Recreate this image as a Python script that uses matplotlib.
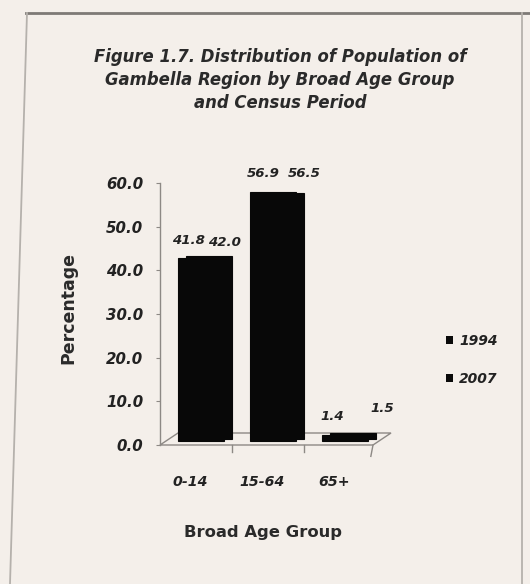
import matplotlib
matplotlib.use("Agg")
import matplotlib.pyplot as plt
from matplotlib.patches import Rectangle, Polygon

categories = ["0-14", "15-64", "65+"]
series_names = ["1994", "2007"]
values_1994 = [41.8, 56.9, 1.4]
values_2007 = [42.0, 56.5, 1.5]
yticks = [0, 10, 20, 30, 40, 50, 60]

FONT = ["DejaVu Sans"]
bg = "#f4efea"
ink = "#222222"
axcol = "#8d8985"

W, H = 530, 584
fig = plt.figure(figsize=(W / 100, H / 100), dpi=100, facecolor=bg)

def fx(px):
    return px / W

def fy(py):
    return 1 - py / H

# outer frame of the printed figure
frame = fig.add_axes([0, 0, 1, 1], facecolor="none")
frame.set_xlim(0, W)
frame.set_ylim(H, 0)
frame.axis("off")
frame.plot([26, 530], [13, 13], color="#7e7a76", lw=2.0)
frame.plot([27, 10], [13, 584], color="#b5b1ac", lw=1.3)
frame.plot([522, 522], [13, 584], color="#b5b1ac", lw=1.3)

# title
title_kw = dict(ha="center", va="center", fontsize=11.9, fontweight="bold",
                fontstyle="italic", color="#2a2a2a", family=FONT)
fig.text(fx(280), fy(57), "Figure 1.7. Distribution of Population of", **title_kw)
fig.text(fx(280), fy(80), "Gambella Region by Broad Age Group", **title_kw)
fig.text(fx(280), fy(103), "and Census Period", **title_kw)

# main axes: y axis at x=160 px, y=0 at 445 px, y=60 at 183 px
unit = 72.0                 # px per category
left_px, right_px = 160, 410
y0_px, y60_px = 445, 183
ax = fig.add_axes([fx(left_px), fy(y0_px), fx(right_px - left_px),
                   (y0_px - y60_px) / H])
ax.set_facecolor("none")
x_lo = -(205 - left_px) / unit
x_hi = x_lo + (right_px - left_px) / unit
ax.set_xlim(x_lo, x_hi)
ax.set_ylim(0, 60)
for s in ax.spines.values():
    s.set_visible(False)

ppu = (y0_px - y60_px) / 60.0   # px per data unit
ddx, ddy = 18 / unit, 12 / ppu  # floor depth
floor_right = x_lo + (373 - left_px) / unit
floor = Polygon([[x_lo, 0], [floor_right, 0], [floor_right + ddx, ddy],
                 [x_lo + ddx, ddy]], closed=True, facecolor="none",
                edgecolor=axcol, lw=1.0, clip_on=False)
ax.add_patch(floor)
ax.plot([x_lo, x_lo], [0, 60], color=axcol, lw=1.0, clip_on=False)
for xc in [0.5, 1.5]:
    ax.plot([xc - 0.12, xc - 0.12], [0, -1.6], color=axcol, lw=1.0, clip_on=False)
ax.plot([floor_right, floor_right - 0.03], [0, -2.6], color=axcol, lw=1.0, clip_on=False)

xs = list(range(len(categories)))
bw = 46 / unit
sh = 8 / unit
# back series (2007) then front series (1994)
ax.bar([x + sh / 2 for x in xs], values_2007, width=bw, bottom=1.3,
       color="#080808", edgecolor="#080808", linewidth=0.8, zorder=2)
ax.bar([x - sh / 2 for x in xs], values_1994, width=bw, bottom=1.0,
       color="#080808", edgecolor="#080808", linewidth=0.8, zorder=3)

# data labels (offsets in px, following the 3-D perspective)
lab_kw = dict(fontsize=9.6, fontweight="bold", fontstyle="italic", color=ink,
              family=FONT, ha="center", va="center", annotation_clip=False)
off_1994 = [(-17, 22), (-14, 23), (-17, 22)]
off_2007 = [(19, 19), (27, 25), (33, 30)]
for x, v, (ox, oy) in zip(xs, values_1994, off_1994):
    ax.annotate(f"{v:.1f}", (x, v), xytext=(ox * 0.72, oy * 0.72),
                textcoords="offset points", **lab_kw)
for x, v, (ox, oy) in zip(xs, values_2007, off_2007):
    ax.annotate(f"{v:.1f}", (x, v), xytext=(ox * 0.72, oy * 0.72),
                textcoords="offset points", **lab_kw)

# y ticks
ax.set_yticks(yticks)
ax.set_yticklabels([f"{t:.1f}" for t in yticks])
ax.tick_params(axis="y", length=3, color=axcol, pad=9, labelsize=10.8)
for lbl in ax.get_yticklabels():
    lbl.set_fontweight("bold")
    lbl.set_fontstyle("italic")
    lbl.set_color(ink)
    lbl.set_family(FONT)

ax.set_xticks([])
for x, c in zip(xs, categories):
    ax.annotate(c, (x, 0), xytext=(-15 * 0.72, -37 * 0.72),
                textcoords="offset points", **{**lab_kw, "fontsize": 10.2})

fig.text(fx(263), fy(532), "Broad Age Group", ha="center", va="center",
         fontsize=11.8, fontweight="bold", color="#2a2a2a", family=FONT)
fig.text(fx(68), fy(308), "Percentage", ha="center", va="center", rotation=90,
         fontsize=12.5, fontweight="bold", color="#2a2a2a", family=FONT)

# legend
handles = [Rectangle((0, 0), 1, 1, facecolor="#0a0a0a") for _ in series_names]
leg = fig.legend(handles, series_names, loc="center left",
                 bbox_to_anchor=(fx(433), fy(360)), frameon=False,
                 handlelength=0.55, handleheight=0.55, handletextpad=0.45,
                 labelspacing=1.75, prop={"family": FONT, "size": 10,
                                          "style": "italic", "weight": "bold"})
for t in leg.get_texts():
    t.set_color(ink)

fig.savefig("out.png", dpi=100, facecolor=bg)
